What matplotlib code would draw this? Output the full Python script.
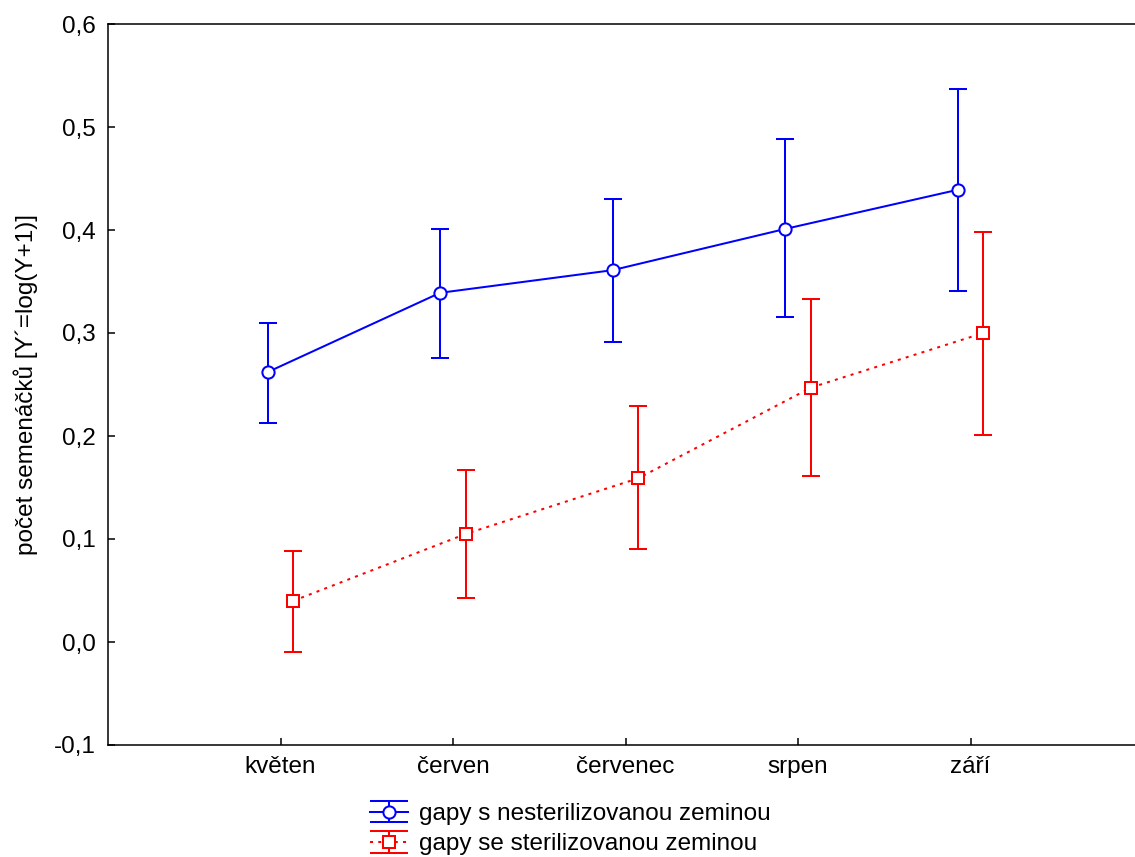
import numpy as np
import matplotlib
matplotlib.use('Agg')
import matplotlib.pyplot as plt
from matplotlib.ticker import FuncFormatter
from matplotlib.legend_handler import HandlerErrorbar
from matplotlib.container import ErrorbarContainer

plt.rcParams['font.family'] = ['Liberation Sans', 'DejaVu Sans']

# mesice a hodnoty
months = ['květen', 'červen', 'červenec', 'srpen', 'září']
nester_mean = [0.262, 0.339, 0.361, 0.401, 0.439]
nester_low = [0.213, 0.276, 0.291, 0.316, 0.341]
nester_high = [0.310, 0.401, 0.430, 0.488, 0.537]
ster_mean = [0.040, 0.105, 0.159, 0.247, 0.300]
ster_low = [-0.010, 0.043, 0.090, 0.161, 0.201]
ster_high = [0.088, 0.167, 0.229, 0.333, 0.398]
yticks = [-0.1, 0.0, 0.1, 0.2, 0.3, 0.4, 0.5, 0.6]

FS = 17.5
LW = 1.45

fig = plt.figure(figsize=(11.35, 8.57), dpi=100)
ax = fig.add_axes([108 / 1135, 112 / 857, 1 - 108 / 1135, (745 - 24) / 857])

x = np.arange(1, len(months) + 1)
off = 0.075

m = np.array(nester_mean)
e1 = ax.errorbar(x - off, m, yerr=[m - np.array(nester_low), np.array(nester_high) - m],
                 color='#0000ff', lw=LW, elinewidth=LW, capthick=LW, capsize=6.2,
                 marker='o', ms=8.8, mfc='white', mec='#0000ff', mew=LW,
                 label='gapy s nesterilizovanou zeminou')
m = np.array(ster_mean)
e2 = ax.errorbar(x + off, m, yerr=[m - np.array(ster_low), np.array(ster_high) - m],
                 color='#ff0000', lw=LW, ls=(0, (1.5, 2.6)), elinewidth=LW, capthick=LW, capsize=6.2,
                 marker='s', ms=8, mfc='white', mec='#ff0000', mew=LW,
                 label='gapy se sterilizovanou zeminou')
# chybove usecky plnou carou
for c in (e1, e2):
    for lc in c[2]:
        lc.set_linestyle('solid')

ax.set_xlim(0, 1027 / 172.5)
ax.set_ylim(-0.1, 0.6)
ax.set_xticks(x)
ax.set_xticklabels(months)
ax.set_yticks(yticks)
ax.yaxis.set_major_formatter(FuncFormatter(lambda v, p: ('%.1f' % round(v, 3)).replace('.', ',').replace('-0,0', '0,0')))
ax.tick_params(axis='y', direction='in', length=5, width=1.1, labelsize=FS, pad=9)
ax.tick_params(axis='x', direction='in', length=5, width=1.1, labelsize=FS, pad=8)
ax.spines['right'].set_visible(False)
for s in ('left', 'bottom', 'top'):
    ax.spines[s].set_linewidth(1.1)

ax.set_ylabel('počet semenáčků [Y´=log(Y+1)]', fontsize=FS)
ax.yaxis.set_label_coords((38 - 108) / 1027, 0.5)


def wide_caps(leg_h, orig_h):
    leg_h.update_from(orig_h)
    if hasattr(orig_h, 'get_marker') and orig_h.get_marker() == '_':
        leg_h.set_markersize(27)


hm = {ErrorbarContainer: HandlerErrorbar(xerr_size=0.45, update_func=wide_caps)}
fig.legend(handles=[e1, e2], handler_map=hm, loc='upper left',
           bbox_to_anchor=(370 / 1135, 1 - 803 / 857), frameon=False,
           fontsize=FS, borderpad=0, borderaxespad=0, handlelength=1.55,
           handletextpad=0.45, labelspacing=0.34)

fig.savefig('out.png', dpi=100)
